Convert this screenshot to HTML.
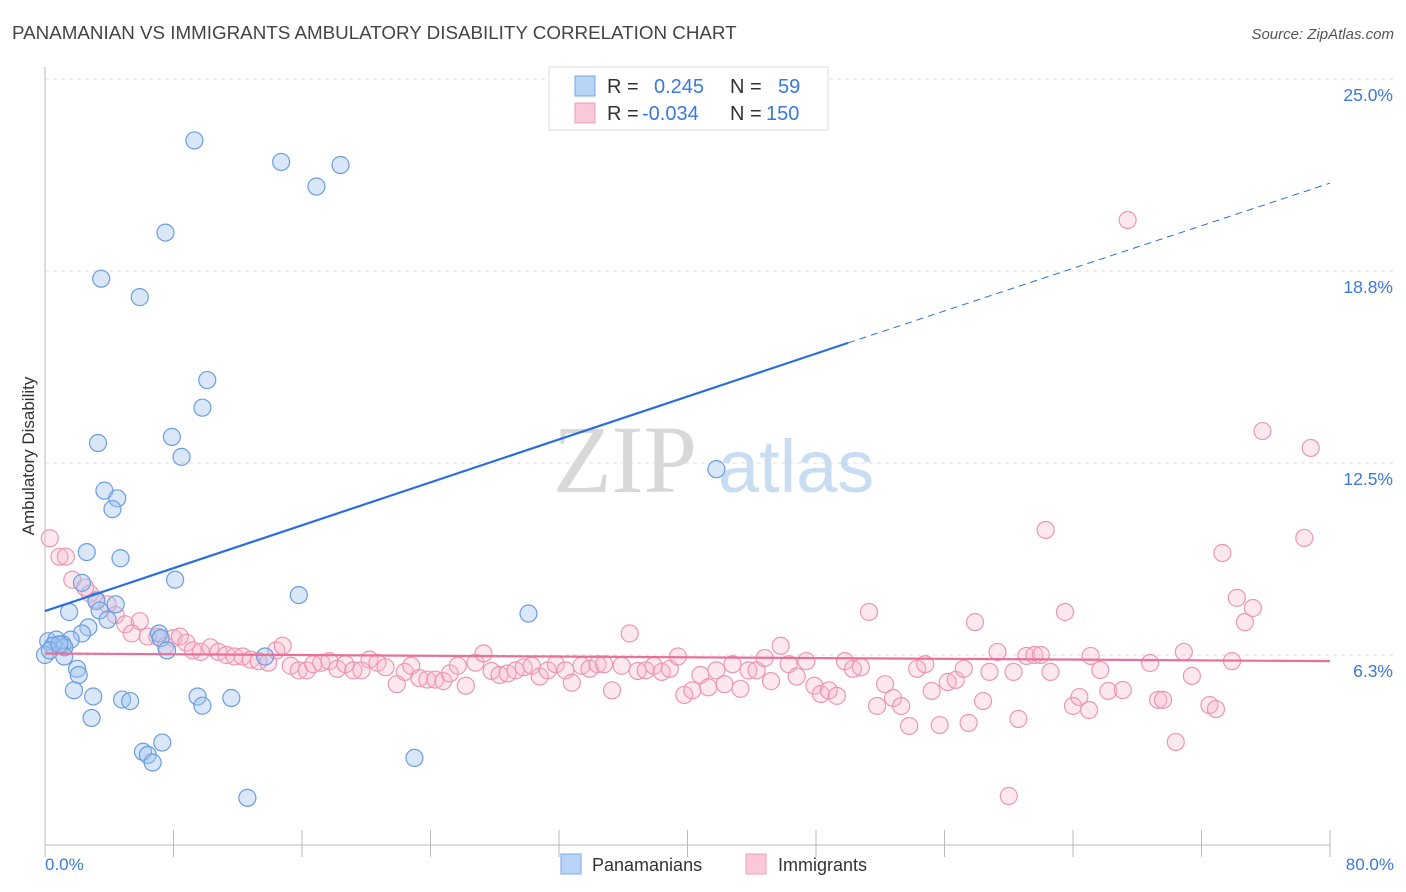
<!DOCTYPE html>
<html><head><meta charset="utf-8"><style>
body{margin:0;background:#fff;font-family:"Liberation Sans",sans-serif}
svg{display:block}
</style></head><body>
<svg id="chart" width="1406" height="892">
<text x="12" y="39" font-size="18.8" fill="#444">PANAMANIAN VS IMMIGRANTS AMBULATORY DISABILITY CORRELATION CHART</text>
<text x="1394" y="39" font-size="15" fill="#555" font-style="italic" text-anchor="end">Source: ZipAtlas.com</text>
<g>
<text x="553" y="492" font-size="96" fill="#d8d8d8" font-family="Liberation Serif,serif">ZIP</text>
<text x="718" y="492" font-size="74" fill="#c8dcf2">atlas</text>
</g>
<g id="grid"></g><g id="axes"></g><g id="marks"></g><g id="lines"></g>
<text transform="translate(34,456) rotate(-90)" font-size="17" fill="#333" text-anchor="middle">Ambulatory Disability</text>
<text x="45" y="870" font-size="17" fill="#3b78d8">0.0%</text>
<text x="1394" y="870" font-size="17" fill="#3b78d8" text-anchor="end">80.0%</text>
<g>
<rect x="549" y="67" width="279" height="63" fill="#fff" stroke="#ddd"/>
<rect x="575" y="76" width="20" height="20" fill="#b8d4f6" stroke="#7aa8e6"/>
<rect x="575" y="103" width="20" height="20" fill="#fbc8d8" stroke="#eba0b8"/>
<text y="93" font-size="20" fill="#333"><tspan x="607">R =</tspan><tspan x="654" fill="#3b78d8">0.245</tspan><tspan x="730">N =</tspan><tspan x="778" fill="#3b78d8">59</tspan></text>
<text y="120" font-size="20" fill="#333"><tspan x="607">R =</tspan><tspan x="642" fill="#3b78d8">-0.034</tspan><tspan x="730">N =</tspan><tspan x="766" fill="#3b78d8">150</tspan></text>
</g>
<g>
<rect x="561" y="854" width="20" height="20" fill="#b8d4f6" stroke="#7aa8e6"/>
<text x="592" y="871" font-size="18" fill="#333">Panamanians</text>
<rect x="746" y="854" width="20" height="20" fill="#fbc8d8" stroke="#eba0b8"/>
<text x="778" y="871" font-size="18" fill="#333">Immigrants</text>
</g>
</svg>
<script>
const yTicks=[6.3,12.5,18.8,25.0];
const yTickVals=[6.25,12.5,18.75,25.0];
const xTickVals=[0,8,16,24,32,40,48,56,64,72,80];
const blueX=[9.3,14.7,18.4,16.9,7.5,3.5,5.9,10.1,9.8,3.3,7.9,8.5,41.8,3.7,4.5,4.2,2.6,4.7,8.1,2.3,15.8,3.2,4.4,3.4,1.5,30.1,3.9,2.7,2.3,7.1,7.2,1.6,0.2,0.7,1.1,0.5,1.2,7.6,13.7,0,1.2,2.0,2.1,1.8,3.0,4.8,5.3,9.5,11.6,9.8,2.9,7.3,6.1,6.4,6.7,23.0,12.6,0.3,0.9];
const blueY=[23.0,22.3,22.2,21.5,20.0,18.5,17.9,15.2,14.3,13.15,13.35,12.7,12.3,11.6,11.35,11.0,9.6,9.4,8.7,8.6,8.2,8.0,7.9,7.7,7.65,7.6,7.4,7.15,6.95,6.95,6.8,6.75,6.7,6.75,6.6,6.55,6.5,6.4,6.2,6.25,6.2,5.8,5.6,5.1,4.9,4.8,4.75,4.9,4.85,4.6,4.2,3.4,3.1,3.0,2.75,2.9,1.6,6.4,6.6];
const pinkX=[0.3,0.9,1.3,1.7,2.5,2.8,3.2,3.9,4.4,5.0,5.9,5.4,6.4,7.0,7.5,8.0,8.4,8.8,9.2,9.7,10.3,10.8,11.3,11.8,12.3,12.8,13.3,13.9,14.4,14.8,15.3,15.8,16.3,16.7,17.2,17.7,18.2,18.7,19.2,19.7,20.2,20.7,21.2,21.9,22.4,22.8,23.3,23.8,24.3,24.8,25.2,25.7,26.2,26.8,27.3,27.8,28.3,28.8,29.3,29.8,30.3,30.8,31.3,31.8,32.4,32.8,33.4,33.9,34.4,34.8,35.3,35.9,36.4,36.9,37.4,37.9,38.4,38.9,39.4,39.8,40.3,40.8,41.3,41.8,42.3,42.8,43.3,43.8,44.3,44.8,45.2,45.8,46.3,46.8,47.4,47.9,48.3,48.8,49.3,49.8,50.3,50.8,51.3,51.8,52.3,52.8,53.3,53.8,54.3,54.8,55.2,55.7,56.2,56.7,57.2,57.5,57.9,58.4,58.8,59.3,60.0,60.3,60.6,61.1,61.6,62.0,62.3,62.6,63.5,64.0,64.4,65.0,65.1,65.7,66.2,67.1,67.4,68.8,69.3,69.6,70.4,70.9,71.4,72.5,72.9,73.3,73.9,74.2,74.7,75.2,75.8,78.4,78.8];
const pinkY=[10.05,9.45,9.45,8.7,8.45,8.25,8.05,7.9,7.55,7.25,7.35,6.95,6.85,6.85,6.55,6.8,6.85,6.65,6.4,6.35,6.5,6.35,6.25,6.2,6.2,6.1,6.05,6.0,6.4,6.55,5.9,5.75,5.75,5.95,6.0,6.05,5.8,5.95,5.75,5.75,6.1,6.0,5.85,5.3,5.7,5.9,5.5,5.45,5.45,5.4,5.65,5.9,5.25,6.0,6.3,5.73,5.6,5.65,5.75,5.85,5.9,5.55,5.75,5.95,5.75,5.35,5.9,5.8,5.95,5.95,5.1,5.9,6.95,5.73,5.75,5.9,5.7,5.8,6.2,4.95,5.1,5.6,5.2,5.75,5.3,5.95,5.15,5.75,5.75,6.15,5.4,6.55,5.95,5.55,6.05,5.25,4.98,5.1,4.92,6.05,5.8,5.85,7.65,4.59,5.3,4.85,4.59,3.94,5.8,5.95,5.08,3.97,5.37,5.44,5.8,4.04,7.32,4.75,5.7,6.35,1.66,5.7,4.17,6.22,6.25,6.25,10.32,5.7,7.65,4.59,4.88,4.46,6.22,5.76,5.08,5.11,20.41,5.99,4.79,4.79,3.42,6.35,5.57,4.62,4.49,9.57,6.05,8.11,7.32,7.78,13.54,10.06,12.99];
const blueTrendX=[0,50,80];
const blueTrendY=[7.68,16.41,21.61];
const pinkTrendX=[0,80];
const pinkTrendY=[6.3,6.05];
const NS="http://www.w3.org/2000/svg";
const X0=45,X1=1330,YB=655,YPX=30.72;
const sx=v=>X0+(v/80)*(X1-X0);
const sy=v=>YB-(v-6.25)*YPX;
function mk(tag,attrs,parent){const e=document.createElementNS(NS,tag);for(const k in attrs)e.setAttribute(k,attrs[k]);parent.appendChild(e);return e;}
const grid=document.getElementById('grid'),axes=document.getElementById('axes'),marks=document.getElementById('marks'),lines=document.getElementById('lines');
yTickVals.forEach((v,i)=>{
 const g=mk('line',{x1:X0,x2:1394,y1:sy(v),y2:sy(v),stroke:'#ddd','stroke-dasharray':'4,4'},grid);
 
 
 const t=mk('text',{x:1393,y:sy(v)+22,'font-size':17.5,fill:'#3b78d8','text-anchor':'end'},grid);
 t.textContent=yTicks[i].toFixed(1)+'%';
 
 
});
const ya=mk('line',{x1:X0,x2:X0,y1:67,y2:845,stroke:'#bbb'},axes);


const xa=mk('line',{x1:X0,x2:X1,y1:845,y2:845,stroke:'#bbb'},axes);


xTickVals.forEach(v=>{
 const t=mk('line',{x1:sx(v),x2:sx(v),y1:830,y2:857,stroke:'#bbb'},axes);
 
 
});
pinkX.forEach((v,i)=>{
 const c=mk('circle',{cx:sx(v),cy:sy(pinkY[i]),r:8.5,fill:'rgba(248,180,200,0.3)',stroke:'#eb97b3','stroke-width':1.2},marks);
 
 
});
blueX.forEach((v,i)=>{
 const c=mk('circle',{cx:sx(v),cy:sy(blueY[i]),r:8.5,fill:'rgba(160,196,240,0.4)',stroke:'#6a9ee0','stroke-width':1.2},marks);
 
 
});
const bl=mk('line',{x1:sx(blueTrendX[0]),y1:sy(blueTrendY[0]),x2:sx(blueTrendX[1]),y2:sy(blueTrendY[1]),stroke:'#2a6fdb','stroke-width':2.2},lines);


const bd=mk('line',{x1:sx(blueTrendX[1]),y1:sy(blueTrendY[1]),x2:sx(blueTrendX[2]),y2:sy(blueTrendY[2]),stroke:'#2a6fdb','stroke-width':1,'stroke-dasharray':'7,5'},lines);


const pl=mk('line',{x1:sx(pinkTrendX[0]),y1:sy(pinkTrendY[0]),x2:sx(pinkTrendX[1]),y2:sy(pinkTrendY[1]),stroke:'#e8719a','stroke-width':2.2},lines);


</script>
</body></html>
